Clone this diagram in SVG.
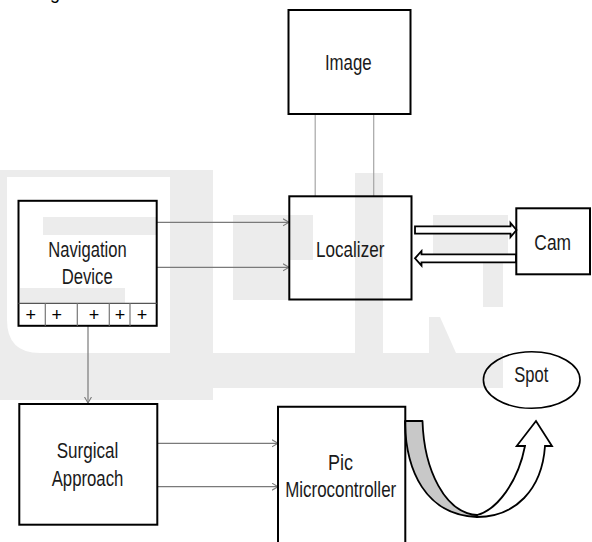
<svg xmlns="http://www.w3.org/2000/svg" width="592" height="542" viewBox="0 0 592 542">
<style>
.box{fill:none;stroke:#000;stroke-width:2}
.t{font-family:"Liberation Sans",Arial,sans-serif;font-size:22px;fill:#1a1a1a;text-anchor:middle}
.p{font-family:"Liberation Sans",Arial,sans-serif;font-size:18px;fill:#000;text-anchor:middle}
.c{fill:none;stroke:#7a7a7a;stroke-width:1.2}
.cl{fill:none;stroke:#a6a6a6;stroke-width:1.2}
.wm{fill:#ececec}
.blk{fill:#fff;stroke:#000;stroke-width:1.8;stroke-linejoin:miter}
</style>
<defs>
<marker id="ah" markerUnits="userSpaceOnUse" markerWidth="8" markerHeight="9" refX="6.5" refY="4" orient="auto">
<path d="M0.5,0.5 L6.5,4 L0.5,7.5" fill="none" stroke="#7a7a7a" stroke-width="1.1"/>
</marker>
</defs>
<rect width="592" height="542" fill="#fff"/>
<g id="watermark">
<path class="wm" d="M0,170 H213 V400 H0 Z M7,177 V320 Q7,353 40,353 H170 V177 Z" fill-rule="evenodd"/>
<rect class="wm" x="43" y="217" width="114" height="18"/>
<rect class="wm" x="20" y="288" width="105" height="15"/>
<rect class="wm" x="233" y="215" width="56" height="85"/>
<rect class="wm" x="213" y="353" width="290" height="35"/>
<rect class="wm" x="355" y="173" width="28" height="180"/>
<rect class="wm" x="290" y="215" width="23" height="45"/>
<rect class="wm" x="433" y="215" width="75" height="45"/>
<rect class="wm" x="483" y="260" width="20" height="47"/>
<path class="wm" d="M429,317 L440,317 L456,353 L429,353 Z"/>
</g>
<text class="p" x="55" y="-1" text-anchor="start" font-size="16">g</text>
<g id="connectors">
<line class="cl" x1="315.2" y1="114" x2="315.2" y2="196"/>
<line class="cl" x1="373.7" y1="114" x2="373.7" y2="196"/>
<line class="c" x1="157" y1="222.3" x2="289" y2="222.3" marker-end="url(#ah)"/>
<line class="c" x1="157" y1="267.3" x2="289" y2="267.3" marker-end="url(#ah)"/>
<line class="c" x1="88" y1="326" x2="88" y2="403" marker-end="url(#ah)"/>
<line class="c" x1="157.5" y1="443.3" x2="278" y2="443.3" marker-end="url(#ah)"/>
<line class="c" x1="157.5" y1="486.7" x2="278" y2="486.7" marker-end="url(#ah)"/>
<path class="blk" d="M415,226.3 H510.5 V223 L516.5,230 L510.5,237 V233.7 H415 Z"/>
<path class="blk" d="M516,254.3 H421.5 V251 L415,258.3 L421.5,265.6 V262.3 H516 Z"/>
<path d="M405,421 L422.5,421 C424,470 445,513 477,515 L477,517 C425,515 406,470 405,423 Z" fill="#c8c8c8" stroke="#000" stroke-width="1.8" stroke-linejoin="round"/>
<path class="blk" d="M477,515 C497,510 518,482 525,446 L516.7,446 L536,421 L552,446 L545,446 C542,490 515,517 477,517 Z"/>
</g>
<g id="image">
<rect class="box" x="288.5" y="10" width="122" height="104"/>
<text class="t" x="348.3" y="70" textLength="46.7" lengthAdjust="spacingAndGlyphs">Image</text>
</g>
<g id="localizer">
<rect class="box" x="289.3" y="196.3" width="122.2" height="103.2"/>
<text class="t" x="350.2" y="256.7" textLength="68.3" lengthAdjust="spacingAndGlyphs">Localizer</text>
</g>
<g id="cam">
<rect class="box" x="516.3" y="208.3" width="73.7" height="66" stroke-width="1.6"/>
<text class="t" x="552.7" y="250" textLength="36.7" lengthAdjust="spacingAndGlyphs">Cam</text>
</g>
<g id="navigation">
<rect class="box" x="18.5" y="200.8" width="138.2" height="125"/>
<line x1="18.5" y1="303.3" x2="156.7" y2="303.3" stroke="#555" stroke-width="1.2"/>
<g stroke="#777" stroke-width="1.2">
<line x1="45.3" y1="303.3" x2="45.3" y2="325.8"/>
<line x1="77.3" y1="303.3" x2="77.3" y2="325.8"/>
<line x1="109.3" y1="303.3" x2="109.3" y2="325.8"/>
<line x1="130" y1="303.3" x2="130" y2="325.8"/>
</g>
<text class="p" x="30.7" y="321">+</text>
<text class="p" x="56.7" y="321">+</text>
<text class="p" x="94" y="321">+</text>
<text class="p" x="120" y="321">+</text>
<text class="p" x="142" y="321">+</text>
<text class="t" x="87.5" y="256.7" textLength="78.3" lengthAdjust="spacingAndGlyphs">Navigation</text>
<text class="t" x="87.2" y="284" textLength="51" lengthAdjust="spacingAndGlyphs">Device</text>
</g>
<g id="surgical">
<rect class="box" x="19.3" y="404" width="138" height="120.7"/>
<text class="t" x="87.5" y="458.3" textLength="61.7" lengthAdjust="spacingAndGlyphs">Surgical</text>
<text class="t" x="87.5" y="485.7" textLength="71.7" lengthAdjust="spacingAndGlyphs">Approach</text>
</g>
<g id="pic">
<path class="box" d="M278,545 V406.7 H405.3 V545"/>
<text class="t" x="340.5" y="470" textLength="25" lengthAdjust="spacingAndGlyphs">Pic</text>
<text class="t" x="340.7" y="496.7" textLength="111" lengthAdjust="spacingAndGlyphs">Microcontroller</text>
</g>
<g id="spot">
<ellipse cx="531.7" cy="380" rx="48.3" ry="28.3" fill="none" stroke="#000" stroke-width="1.6"/>
<text class="t" x="531.3" y="381.7" textLength="34" lengthAdjust="spacingAndGlyphs">Spot</text>
</g>
</svg>
